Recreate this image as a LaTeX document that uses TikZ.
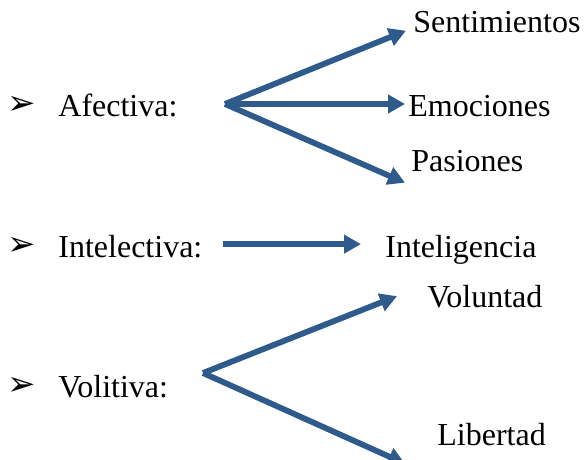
\documentclass[tikz,border=0pt]{standalone}
\usepackage{fontspec}
\setmainfont{Liberation Serif}
\newfontfamily\dingfont{DejaVu Sans}
\usetikzlibrary{arrows.meta}
\definecolor{arrowblue}{HTML}{2F5A8C}

\begin{document}
\begin{tikzpicture}[x=0.5pt, y=-0.5pt,
		txt/.style={anchor=base west, inner sep=0pt, font=\fontsize{16}{19}\selectfont},
		bul/.style={inner sep=0pt, font=\dingfont\fontsize{17}{17}\selectfont},
		arr/.style={draw=arrowblue, line width=2.9pt, -{Triangle[length=8.5pt, width=9pt]}}]
			\useasboundingbox (0,0) rectangle (584,460);
			% left column
			\node[bul](b1) at (22,105){➢};
			\node[bul](b2) at (22,246){➢};
			\node[bul](b3) at (22,386){➢};
			\node[txt](afe) at (58,117){Afectiva:};
			\node[txt](int) at (58,257){Intelectiva:};
			\node[txt](vol) at (58,397){Volitiva:};
			% right column
			\node[txt](sen) at (413,33){Sentimientos};
			\node[txt](emo) at (408,117){Emociones};
			\node[txt](pas) at (411,171){Pasiones};
			\node[txt](intg) at (385,257){Inteligencia};
			\node[txt](volu) at (427,307){Voluntad};
			\node[txt](lib) at (437,445){Libertad};
			% branch points
			\coordinate (o1) at (225,104);
			\coordinate (o3) at (203,373);
			\draw[arr] (o1) -- ([xshift=-3.5pt,yshift=1.5pt]sen.south west);
			\draw[arr] (o1) -- ([xshift=-1.5pt]emo.west |- o1);
			\draw[arr] (o1) -- ([xshift=-3pt,yshift=-5.5pt]pas.south west);
			\draw[arr] ([xshift=10pt,yshift=1pt]int.east) -- ([xshift=-12pt,yshift=1pt]intg.west |- int.east);
			\draw[arr] (o3) -- ([xshift=-15pt]volu.west);
			\draw[arr] (o3) -- ([xshift=-16pt,yshift=-9pt]lib.south west);
\end{tikzpicture}
\end{document}
